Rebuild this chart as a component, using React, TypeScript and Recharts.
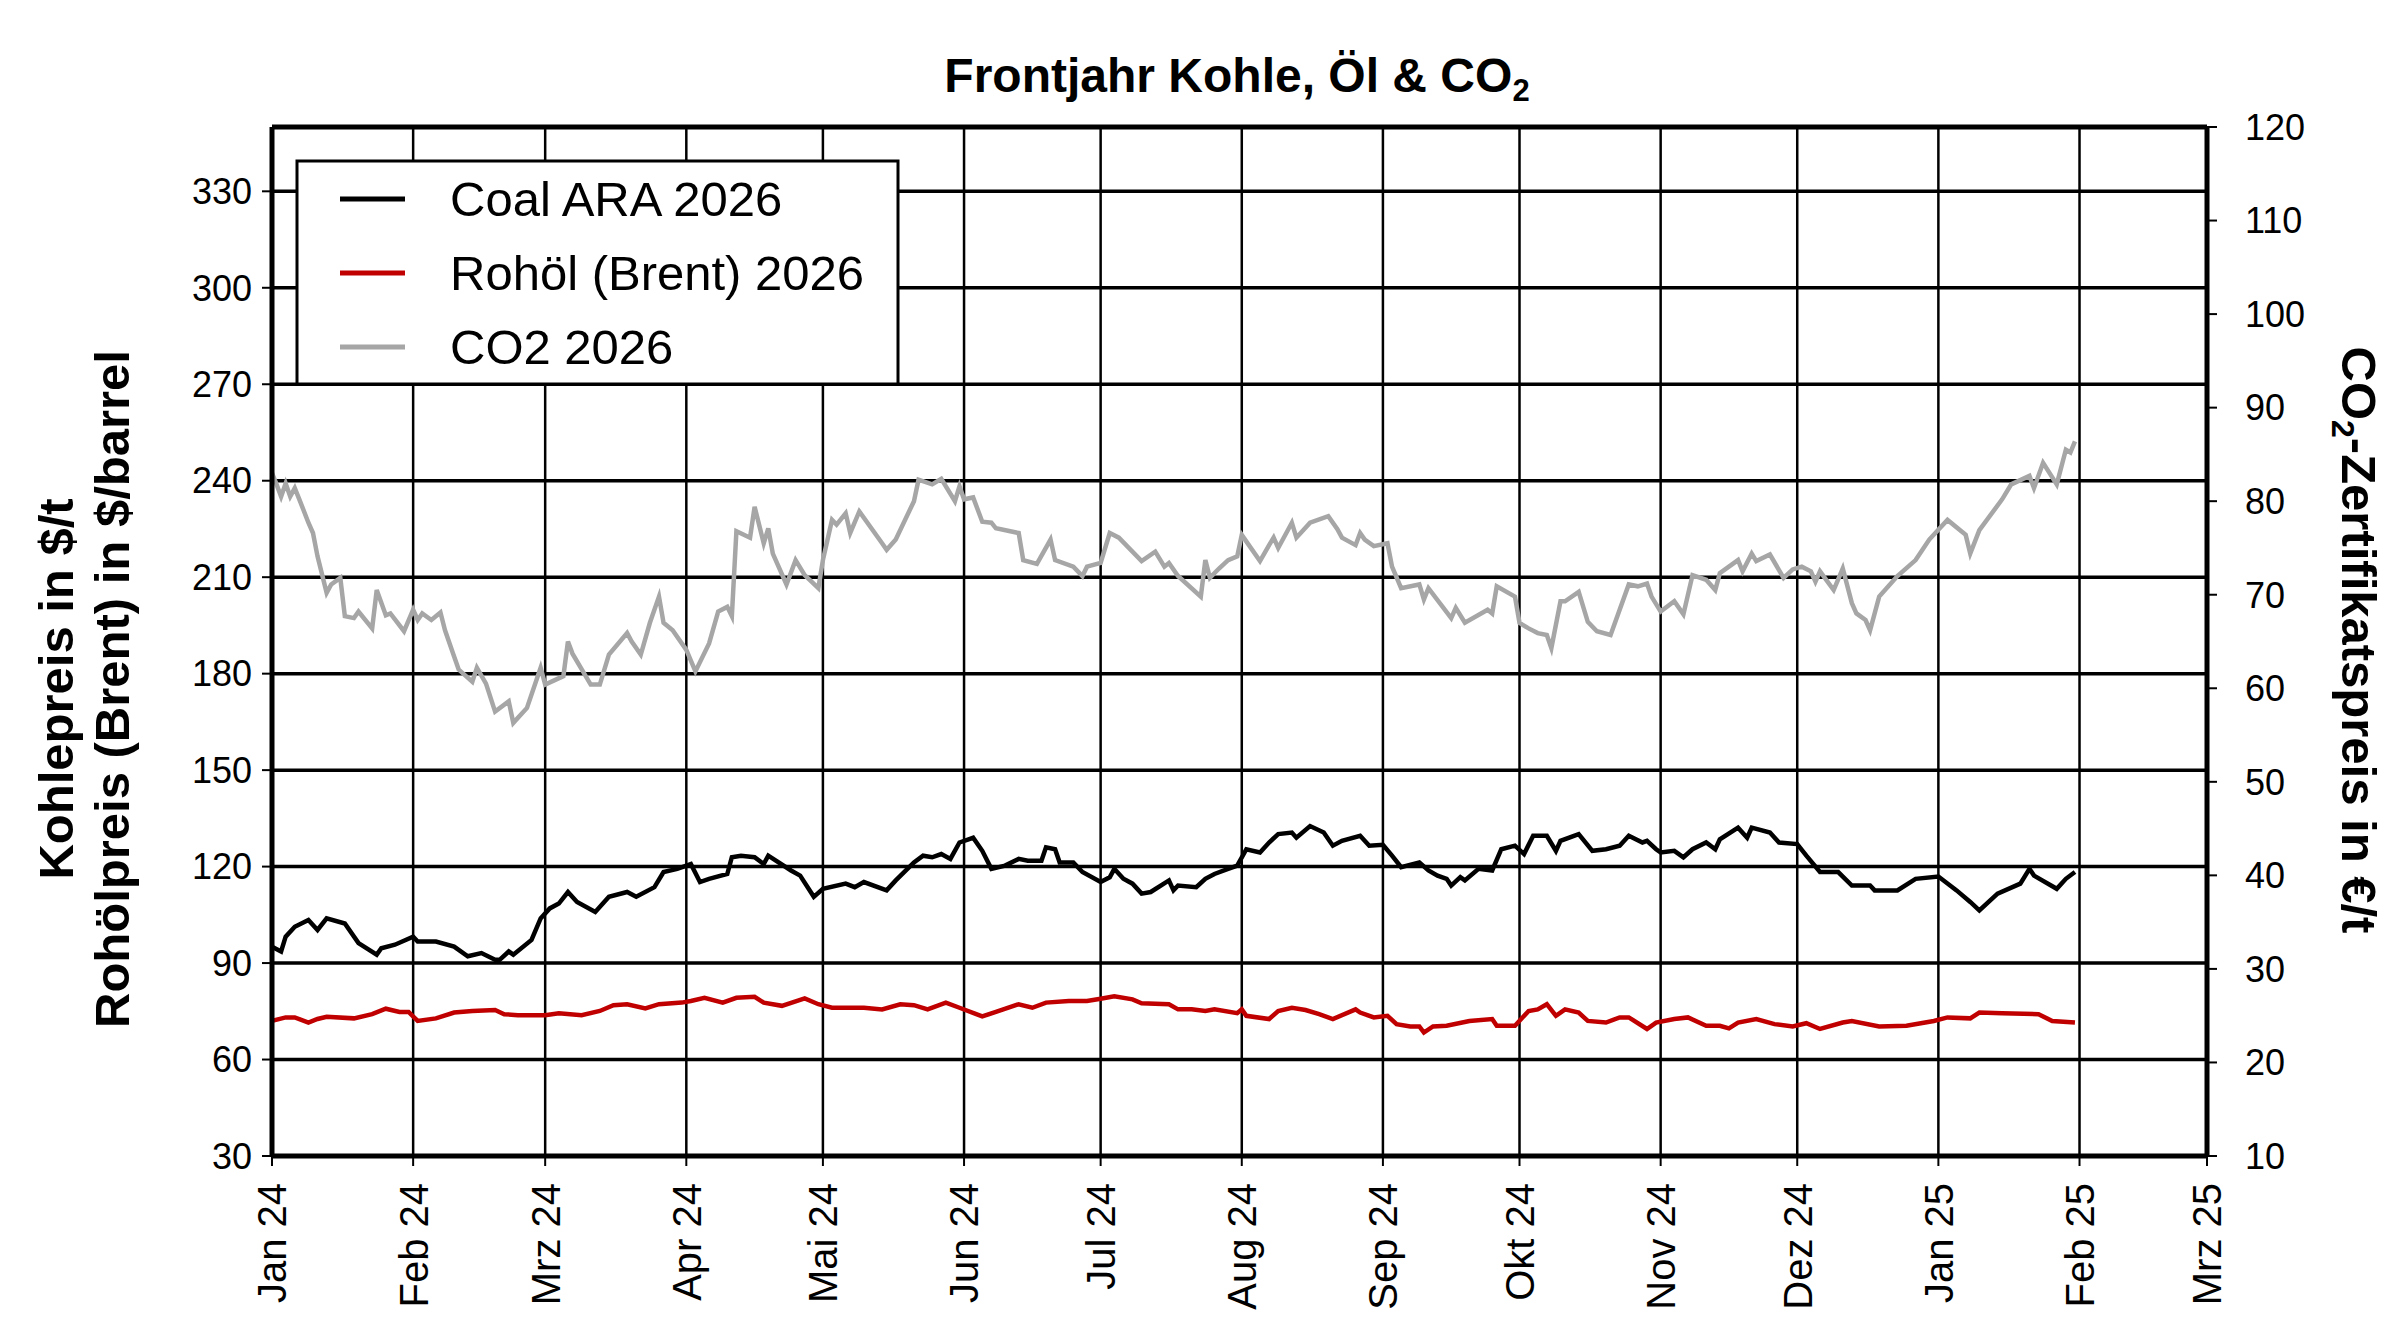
import { LineChart, Line, XAxis, YAxis, CartesianGrid, ReferenceLine } from "recharts";

const FONT = "'Liberation Sans', Arial, Helvetica, sans-serif";
const W = 2400;
const H = 1327;

// x values are days since 1 Jan 2024
const START = Date.UTC(2024, 0, 1);
const dayOf = (iso: string) => Math.round((Date.parse(iso + "T00:00:00Z") - START) / 86400000);

const monthTicks = [
  "2024-01-01", "2024-02-01", "2024-03-01", "2024-04-01", "2024-05-01",
  "2024-06-01", "2024-07-01", "2024-08-01", "2024-09-01", "2024-10-01",
  "2024-11-01", "2024-12-01", "2025-01-01", "2025-02-01", "2025-03-01",
];
const monthLabels = [
  "Jan 24", "Feb 24", "Mrz 24", "Apr 24", "Mai 24", "Jun 24", "Jul 24", "Aug 24",
  "Sep 24", "Okt 24", "Nov 24", "Dez 24", "Jan 25", "Feb 25", "Mrz 25",
];

const leftTicks = [30, 60, 90, 120, 150, 180, 210, 240, 270, 300, 330];
const rightTicks = [10, 20, 30, 40, 50, 60, 70, 80, 90, 100, 110, 120];

// Coal ARA 2026, $/t
const coalAra: [number, number][] = [
  [0, 95.1], [2, 93.6], [3, 98.2], [5, 101.3], [8, 103.4], [10, 100.3], [12, 103.9], [16, 102.3],
  [19, 96.2], [23, 92.6], [24, 94.6], [27, 95.7], [31, 98.2], [32, 96.7], [36, 96.7], [40, 95.1],
  [43, 92.1], [46, 93.1], [49, 91.0], [50, 91.0], [52, 93.6], [53, 92.6], [57, 97.2], [59, 103.9],
  [61, 107.0], [63, 108.5], [65, 112.1], [67, 109.0], [71, 105.9], [74, 110.6], [78, 112.1], [80, 110.6],
  [84, 113.6], [86, 118.3], [89, 119.3], [92, 120.8], [94, 115.2], [96, 116.2], [100, 117.7], [101, 122.9],
  [103, 123.4], [106, 122.9], [108, 120.8], [109, 123.4], [114, 118.8], [116, 117.2], [119, 110.6], [121, 113.1],
  [126, 114.7], [128, 113.6], [130, 115.2], [135, 112.6], [137, 115.7], [141, 121.3], [143, 123.4], [145, 122.9],
  [147, 123.9], [149, 122.4], [151, 127.5], [153, 128.5], [154, 129.0], [156, 124.9], [158, 119.3], [161, 120.3],
  [164, 122.4], [166, 121.8], [169, 121.8], [170, 126.0], [172, 125.4], [173, 121.3], [176, 121.3], [178, 118.3],
  [182, 115.2], [184, 116.7], [185, 119.3], [187, 116.2], [189, 114.7], [191, 111.6], [193, 112.1], [197, 115.7],
  [198, 112.6], [199, 114.1], [203, 113.6], [205, 116.2], [207, 117.7], [210, 119.3], [212, 120.3], [214, 125.4],
  [217, 124.4], [219, 127.5], [221, 130.1], [224, 130.6], [225, 129.0], [228, 132.6], [231, 130.6], [233, 126.5],
  [235, 128.0], [239, 129.6], [241, 126.5], [244, 126.8], [246, 123.4], [248, 119.8], [252, 121.3], [254, 118.8],
  [256, 117.2], [258, 116.2], [259, 114.1], [261, 116.7], [262, 115.7], [265, 119.3], [268, 118.8], [270, 125.4],
  [273, 126.5], [275, 123.9], [277, 129.6], [280, 129.6], [282, 124.9], [283, 128.0], [287, 130.1], [290, 124.9],
  [293, 125.4], [296, 126.5], [298, 129.6], [301, 127.5], [302, 128.0], [304, 125.4], [305, 124.4], [308, 124.9],
  [310, 122.9], [312, 125.4], [315, 127.5], [317, 125.4], [318, 128.5], [322, 132.1], [324, 129.0], [325, 132.1],
  [329, 130.6], [331, 127.5], [335, 127.0], [337, 123.4], [340, 118.3], [344, 118.3], [347, 114.1], [351, 114.1],
  [352, 112.6], [357, 112.6], [361, 116.2], [366, 116.9], [370, 112.6], [373, 109.0], [375, 106.4], [379, 111.6],
  [384, 114.7], [386, 119.3], [387, 117.2], [392, 113.1], [394, 116.2], [396, 118.3],
];

// Rohöl (Brent) 2026, $/barrel
const brent: [number, number][] = [
  [0, 72.0], [3, 73.1], [5, 73.1], [8, 71.5], [10, 72.6], [12, 73.3], [18, 72.8], [22, 74.1],
  [25, 75.8], [28, 74.8], [30, 74.8], [32, 72.0], [36, 72.8], [40, 74.6], [44, 75.1], [49, 75.4],
  [51, 74.1], [54, 73.8], [60, 73.8], [63, 74.4], [68, 73.8], [72, 75.1], [75, 76.9], [78, 77.2],
  [82, 75.9], [85, 77.2], [90, 77.7], [92, 78.2], [95, 79.2], [99, 77.7], [102, 79.2], [106, 79.5],
  [108, 77.7], [112, 76.7], [117, 79.0], [120, 77.2], [123, 76.1], [130, 76.1], [134, 75.6], [138, 77.2],
  [141, 76.9], [144, 75.6], [148, 77.7], [151, 76.1], [156, 73.4], [159, 74.8], [164, 77.2], [167, 76.1],
  [170, 77.7], [175, 78.2], [179, 78.2], [182, 78.9], [185, 79.7], [189, 78.7], [191, 77.5], [197, 77.2],
  [199, 75.6], [202, 75.6], [205, 75.1], [207, 75.6], [212, 74.4], [213, 75.6], [214, 73.6], [219, 72.6],
  [221, 75.1], [224, 76.1], [227, 75.4], [230, 74.1], [233, 72.6], [238, 75.6], [239, 74.6], [242, 73.1],
  [245, 73.6], [247, 71.0], [250, 70.3], [252, 70.3], [253, 68.4], [255, 70.3], [258, 70.5], [263, 72.0],
  [268, 72.6], [269, 70.5], [273, 70.5], [276, 75.1], [278, 75.6], [280, 77.2], [282, 73.6], [284, 75.6],
  [287, 74.6], [289, 72.0], [293, 71.5], [296, 73.1], [298, 73.1], [302, 69.5], [304, 71.5], [308, 72.6],
  [311, 73.1], [315, 70.5], [318, 70.5], [320, 69.7], [322, 71.5], [326, 72.6], [330, 71.0], [334, 70.3],
  [337, 71.3], [340, 69.5], [345, 71.5], [347, 72.0], [353, 70.3], [359, 70.5], [365, 72.0], [368, 73.1],
  [373, 72.8], [375, 74.6], [380, 74.4], [388, 74.1], [391, 72.0], [396, 71.5],
];

// CO2 2026, €/t (right axis)
const co2: [number, number][] = [
  [0, 83.0], [1, 81.8], [2, 80.5], [3, 81.9], [4, 80.5], [5, 81.4], [6, 80.2], [8, 77.7],
  [9, 76.6], [10, 74.1], [12, 70.2], [13, 71.1], [15, 71.8], [16, 67.7], [18, 67.5], [19, 68.2],
  [22, 66.4], [23, 70.5], [25, 67.8], [26, 68.0], [29, 66.1], [31, 68.4], [32, 67.3], [33, 68.0],
  [35, 67.3], [37, 68.1], [38, 66.2], [40, 63.4], [41, 62.0], [44, 60.7], [45, 62.2], [47, 60.5],
  [49, 57.5], [52, 58.6], [53, 56.3], [56, 57.9], [59, 62.2], [60, 60.4], [64, 61.3], [65, 65.0],
  [66, 63.7], [70, 60.4], [72, 60.4], [74, 63.6], [78, 65.9], [79, 65.0], [81, 63.6], [83, 67.0],
  [85, 69.8], [86, 67.0], [88, 66.2], [91, 64.1], [93, 61.8], [96, 64.8], [98, 68.2], [100, 68.7],
  [101, 67.7], [102, 76.8], [105, 76.1], [106, 79.4], [108, 75.5], [109, 77.1], [110, 74.4], [113, 71.1],
  [115, 73.7], [117, 72.1], [120, 70.7], [121, 73.7], [123, 78.0], [124, 77.5], [126, 78.7], [127, 76.6],
  [129, 78.9], [134, 75.5], [135, 74.8], [137, 75.9], [141, 80.0], [142, 82.3], [145, 81.8], [147, 82.4],
  [150, 80.0], [151, 81.6], [152, 80.2], [154, 80.4], [156, 77.8], [158, 77.7], [159, 77.1], [164, 76.6],
  [165, 73.7], [168, 73.3], [171, 75.9], [172, 73.7], [176, 73.0], [178, 72.0], [179, 73.0], [182, 73.4],
  [184, 76.6], [186, 76.1], [191, 73.6], [194, 74.6], [196, 73.0], [197, 73.4], [199, 72.0], [204, 69.8],
  [205, 73.7], [206, 71.8], [208, 72.8], [210, 73.7], [212, 74.1], [213, 76.4], [217, 73.6], [219, 75.3],
  [220, 76.1], [221, 75.0], [224, 77.7], [225, 76.1], [228, 77.7], [232, 78.4], [234, 77.0], [235, 76.1],
  [238, 75.3], [239, 76.6], [240, 75.9], [242, 75.2], [245, 75.5], [246, 73.0], [248, 70.7], [252, 71.1],
  [253, 69.5], [254, 70.7], [259, 67.5], [260, 68.6], [262, 67.0], [267, 68.4], [268, 68.0], [269, 70.9],
  [273, 69.8], [274, 67.0], [276, 66.4], [278, 65.9], [280, 65.7], [281, 64.3], [283, 69.3], [284, 69.3],
  [287, 70.3], [289, 67.1], [291, 66.1], [294, 65.7], [298, 71.1], [300, 70.9], [302, 71.2], [303, 69.8],
  [305, 68.2], [308, 69.3], [310, 67.9], [312, 72.1], [315, 71.6], [317, 70.5], [318, 72.3], [322, 73.7],
  [323, 72.5], [325, 74.4], [326, 73.6], [329, 74.3], [332, 71.8], [334, 72.7], [336, 73.0], [338, 72.5],
  [339, 71.4], [340, 72.5], [343, 70.5], [345, 72.8], [347, 69.1], [348, 68.0], [350, 67.3], [351, 66.2],
  [353, 69.8], [357, 72.0], [361, 73.7], [364, 75.9], [368, 78.0], [372, 76.4], [373, 74.4], [375, 76.9],
  [380, 80.2], [382, 81.8], [386, 82.7], [387, 81.4], [389, 84.1], [392, 81.8], [394, 85.5], [395, 85.2],
  [396, 86.4],
];

const toRows = (pts: [number, number][]) => pts.map(([day, value]) => ({ day, value }));

const tickDays = monthTicks.map(dayOf);
const xMax = tickDays[tickDays.length - 1];
const labelByDay = new Map(tickDays.map((d, i) => [d, monthLabels[i]]));

function MonthTick({ x, y, payload }: any) {
  return (
    <text
      x={x}
      y={y}
      transform={`rotate(-90 ${x} ${y})`}
      textAnchor="end"
      dy="0.36em"
      fontSize={40}
      fontFamily={FONT}
      fill="#000"
    >
      {labelByDay.get(payload.value) ?? ""}
    </text>
  );
}

const legendItems = [
  { label: "Coal ARA 2026", color: "#000000" },
  { label: "Rohöl (Brent) 2026", color: "#C00000" },
  { label: "CO2 2026", color: "#A6A6A6" },
];

export default function App() {
  const axisTick = { fill: "#000", fontSize: 36, fontFamily: FONT };
  return (
    <div style={{ position: "absolute", left: 0, top: 0, width: W, height: H, background: "#fff" }}>
      <LineChart width={W} height={H} margin={{ top: 127, right: 103, bottom: 51, left: 182 }}>
        {/* month lines */}
        <CartesianGrid horizontal={false} stroke="#000" strokeWidth={2.5} />
        {/* price lines, following the left axis ticks */}
        <CartesianGrid vertical={false} stroke="#000" strokeWidth={3.5} />
        <XAxis
          dataKey="day"
          type="number"
          domain={[0, xMax]}
          ticks={tickDays}
          interval={0}
          height={120}
          tick={<MonthTick />}
          tickSize={10}
          tickMargin={17}
          tickLine={{ stroke: "#000", strokeWidth: 2 }}
          axisLine={{ stroke: "#000", strokeWidth: 5 }}
        />
        {/* $ axis (default id) */}
        <YAxis
          type="number"
          domain={[30, 350]}
          ticks={leftTicks}
          interval={0}
          width={90}
          tick={axisTick}
          tickSize={10}
          tickMargin={10}
          tickLine={{ stroke: "#000", strokeWidth: 2 }}
          axisLine={{ stroke: "#000", strokeWidth: 5 }}
        />
        <YAxis
          yAxisId="right"
          orientation="right"
          type="number"
          domain={[10, 120]}
          ticks={rightTicks}
          interval={0}
          width={90}
          tick={axisTick}
          tickSize={10}
          tickMargin={28}
          tickLine={{ stroke: "#000", strokeWidth: 2 }}
          axisLine={{ stroke: "#000", strokeWidth: 5 }}
        />
        <ReferenceLine y={350} stroke="#000" strokeWidth={5} />
        <Line
          yAxisId="right"
          data={toRows(co2)}
          dataKey="value"
          name="CO2 2026"
          stroke="#A6A6A6"
          strokeWidth={4.5}
          dot={false}
          activeDot={false}
          isAnimationActive={false}
        />
        <Line
          data={toRows(brent)}
          dataKey="value"
          name="Rohöl (Brent) 2026"
          stroke="#C00000"
          strokeWidth={4.5}
          dot={false}
          activeDot={false}
          isAnimationActive={false}
        />
        <Line
          data={toRows(coalAra)}
          dataKey="value"
          name="Coal ARA 2026"
          stroke="#000000"
          strokeWidth={4.5}
          dot={false}
          activeDot={false}
          isAnimationActive={false}
        />
      </LineChart>

      {/* title, axis titles and legend */}
      <svg
        width={W}
        height={H}
        style={{ position: "absolute", left: 0, top: 0, pointerEvents: "none" }}
        fontFamily={FONT}
      >
        <text x={1237} y={92} textAnchor="middle" fontSize={48} fontWeight="bold" fill="#000">
          Frontjahr Kohle, Öl &amp; CO
          <tspan fontSize={31} dy={9}>2</tspan>
        </text>

        <text
          x={73}
          y={689}
          transform="rotate(-90 73 689)"
          textAnchor="middle"
          fontSize={49}
          fontWeight="bold"
          fill="#000"
        >
          Kohlepreis in $/t
        </text>
        <text
          x={129}
          y={689}
          transform="rotate(-90 129 689)"
          textAnchor="middle"
          fontSize={49}
          fontWeight="bold"
          fill="#000"
        >
          Rohölpreis (Brent) in $/barrel
        </text>

        <text
          x={2342}
          y={640}
          transform="rotate(90 2342 640)"
          textAnchor="middle"
          fontSize={49}
          fontWeight="bold"
          fill="#000"
        >
          CO<tspan fontSize={32} dy={10}>2</tspan>
          <tspan dy={-10}>-Zertifikatspreis in €/t</tspan>
        </text>

        <rect x={297} y={161} width={601} height={223} fill="#fff" stroke="#000" strokeWidth={3} />
        {legendItems.map((item, i) => {
          const cy = 199 + i * 74;
          return (
            <g key={item.label}>
              <line x1={340} x2={405} y1={cy} y2={cy} stroke={item.color} strokeWidth={5} />
              <text x={450} y={cy + 17} fontSize={49} fill="#000">
                {item.label}
              </text>
            </g>
          );
        })}
      </svg>
    </div>
  );
}
